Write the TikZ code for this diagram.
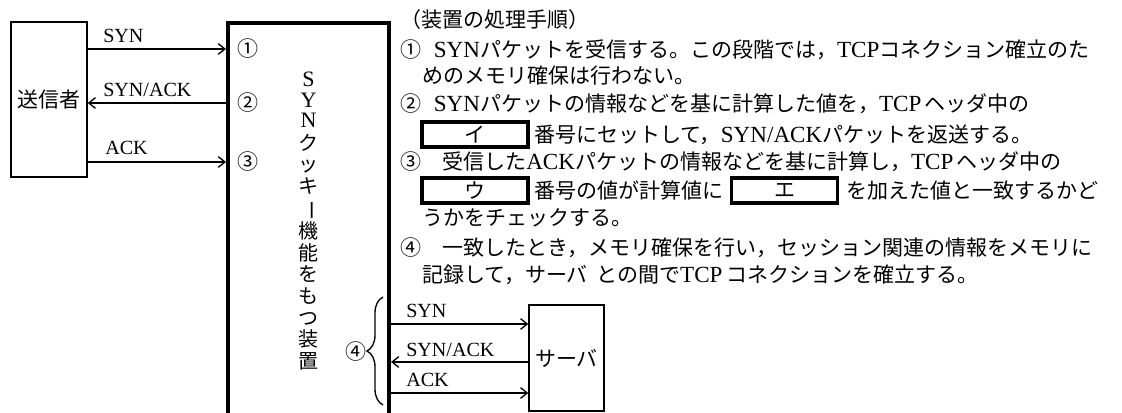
\documentclass[tikz,border=0pt]{standalone}
\usepackage{fontspec}
\usepackage{graphicx}
\setmainfont{Noto Sans CJK JP}
\newfontfamily\enfont[Scale=1.1]{Liberation Serif}
\newcommand\ltn[1]{{\enfont #1}}
\usetikzlibrary{arrows.meta,positioning,decorations.pathreplacing}
\tikzset{
  ebox/.style={rectangle,draw,line width=1.1pt,
    align=center,inner sep=0pt,
    font=\fontsize{15.75}{18}\selectfont},
  devbox/.style={rectangle,draw,line width=3pt,
    align=center,inner sep=0pt,
    font=\fontsize{15}{16.2}\selectfont},
  abox/.style={rectangle,draw,line width=2.6pt,
    minimum width=79.5pt,minimum height=18.75pt,
    inner sep=0pt,font=\fontsize{15.75}{18}\selectfont},
  txt/.style={anchor=west,inner sep=0pt,
    font=\fontsize{15.75}{18}\selectfont},
  num/.style={inner sep=0pt,font=\fontsize{15.75}{18}\selectfont},
  lbl/.style={anchor=west,inner sep=0pt,
    font=\fontsize{13.7}{16}\selectfont\enfont},
  arr/.style={-{Straight Barb[length=5pt,width=8pt]},line width=1pt},
  brc/.style={decorate,decoration={brace,amplitude=12pt},line width=1pt},
}

\begin{document}
\begin{tikzpicture}[x=0.75pt,y=-0.75pt]
  \useasboundingbox (0,0) rectangle (1122,413);

  % sender, device, server
  \node[ebox,minimum width=57pt,minimum height=116.25pt] (snd) at (49,99.5) {送信者};
  \node[devbox,minimum width=120.75pt,minimum height=300pt] (dev) at (308.5,223) {};
  \node[devbox,draw=none,anchor=north] (devtxt) at (308.5,70)
    {\ltn{S}\\[-0.5pt]\ltn{Y}\\[-1pt]\ltn{N}\\[0.5pt]ク\\ッ\\キ\\\rotatebox[origin=c]{-90}{ー}\\機\\能\\を\\も\\つ\\装\\置};
  \node[ebox,minimum width=56.25pt,minimum height=79.5pt] (srv) at (566.5,358) {サーバ};

  % message rows
  \coordinate (r1) at (0,49);
  \coordinate (r2) at (0,103);
  \coordinate (r3) at (0,162);
  \coordinate (b1) at (0,324);
  \coordinate (b2) at (0,362);
  \coordinate (b3) at (0,393);

  \draw[arr] (snd.east |- r1) -- (dev.west |- r1);
  \draw[arr] (dev.west |- r2) -- (snd.east |- r2);
  \draw[arr] (snd.east |- r3) -- (dev.west |- r3);
  \draw[arr] (dev.east |- b1) -- (srv.west |- b1);
  \draw[arr] (srv.west |- b2) -- (dev.east |- b2);
  \draw[arr] (dev.east |- b3) -- (srv.west |- b3);

  \node[lbl] (l1) at (103,36) {SYN};
  \node[lbl] (l2) at (103,90) {SYN/ACK};
  \node[lbl] (l3) at (105,148) {ACK};
  \node[lbl] (l4) at (406,311) {SYN};
  \node[lbl] (l5) at (406,350) {SYN/ACK};
  \node[lbl] (l6) at (406,380) {ACK};

  \node[num] (c1) at (248,49) {①};
  \node[num] (c2) at (248,103) {②};
  \node[num] (c3) at (248,162) {③};
  \node[num] (c4) at (356,352) {④};

  \coordinate (bt) at (383,297);
  \coordinate (bb) at (383,405);
  \draw[brc] (bb) -- (bt);

  % procedure text
  \node[txt] (t0) at (400,20) {（装置の処理手順）};
  \node[txt] (t1) at (400,50) {①\hspace{0.6em}\ltn{SYN}パケットを受信する。この段階では，\ltn{TCP}コネクション確立のた};
  \node[txt] (t2) at (422,76) {めのメモリ確保は行わない。};
  \node[txt] (t3) at (400,104) {②\hspace{0.6em}\ltn{SYN}パケットの情報などを基に計算した値を，\ltn{TCP}\,ヘッダ中の};
  \node[abox] (ai) at (475,134.5) {イ};
  \node[txt,right=3pt of ai] (t4) {番号にセットして，\ltn{SYN/ACK}パケットを返送する。};
  \node[txt] (t5) at (400,162) {③\hspace{1em}受信した\ltn{ACK}パケットの情報などを基に計算し，\ltn{TCP}\,ヘッダ中の};
  \node[abox] (au) at (475,190.5) {ウ};
  \node[txt,right=3pt of au] (t6a) {番号の値が計算値に};
  \node[abox,right=5pt of t6a] (ae) {エ};
  \node[txt,right=5pt of ae] (t6b) {を加えた値と一致するかど};
  \node[txt] (t7) at (422,218) {うかをチェックする。};
  \node[txt] (t8) at (400,248) {④\hspace{1em}一致したとき，メモリ確保を行い，セッション関連の情報をメモリに};
  \node[txt] (t9) at (422,275) {記録して，サーバ\hspace{0.4em}との間で\ltn{TCP}\,コネクションを確立する。};
\end{tikzpicture}
\end{document}
